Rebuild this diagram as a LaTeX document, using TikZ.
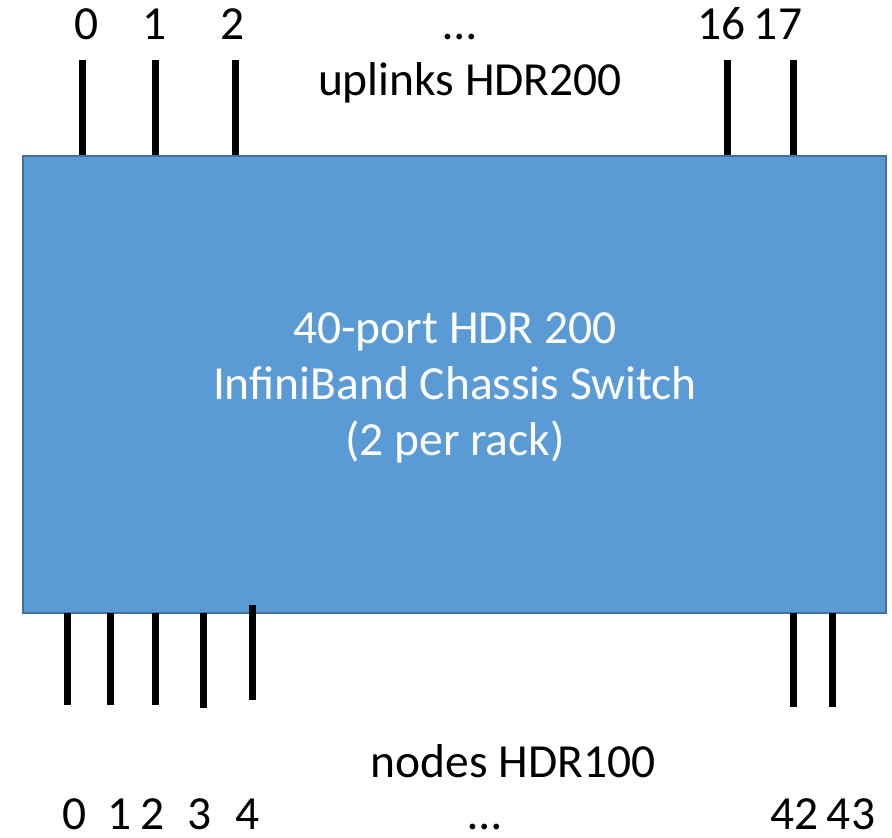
\documentclass[tikz,border=0pt]{standalone}
\usepackage{fontspec}
\setmainfont{Carlito}
\definecolor{boxfill}{HTML}{5B9BD5}
\definecolor{boxline}{HTML}{41719C}
\begin{document}
\begin{tikzpicture}[x=1pt,y=-1pt,
  lbl/.style={font=\fontsize{47.5}{56}\selectfont, inner sep=0pt, anchor=base},
  port/.style={line width=7pt, black},
  swbox/.style={draw=boxline, line width=1.5pt, fill=boxfill, inner sep=0pt}]
\useasboundingbox (0,0) rectangle (892,838);
% switch box
\node[swbox, minimum width=863pt, minimum height=457pt, anchor=north west] (sw) at (22,155) {};
\node[lbl, text=white] (t1) at (455,343) {40-port HDR 200};
\node[lbl, text=white] (t2) at (455,399) {InfiniBand Chassis Switch};
\node[lbl, text=white] (t3) at (455,455) {(2 per rack)};
% uplinks
\foreach \n/\x in {u0/82,u1/155,u2/235,u16/727,u17/793}{
  \coordinate (\n) at (\x,60);
  \draw[port] (\n) -- (\n |- sw.north);
}
\node[lbl] (l0) at (87,39) {0};
\node[lbl] (l1) at (155,39) {1};
\node[lbl] (l2) at (233,39) {2};
\node[lbl] (ldots) at (460,39) {…};
\node[lbl] (l16) at (750,39) {16\,17};
\node[lbl] (up) at (470,95) {uplinks HDR200};
% node links
\foreach \n/\x/\ya/\yb in {d0/67/613/705,d1/110/613/705,d2/155/613/705,d3/203/613/708,d4/252/605/700,d42/793/613/707,d43/832/613/707}{
  \coordinate (\n a) at (\x,\ya);
  \coordinate (\n) at (\x,\yb);
  \draw[port] (\n a) -- (\n);
}
\node[lbl] (b0) at (75,829) {0};
\node[lbl] (b1) at (120,829) {1};
\node[lbl] (b2) at (153,829) {2};
\node[lbl] (b3) at (200,829) {3};
\node[lbl] (b4) at (248,829) {4};
\node[lbl] (bdots) at (485,829) {…};
\node[lbl] (b42) at (823,829) {42\,43};
\node[lbl] (nd) at (513,777) {nodes HDR100};
\end{tikzpicture}
\end{document}
